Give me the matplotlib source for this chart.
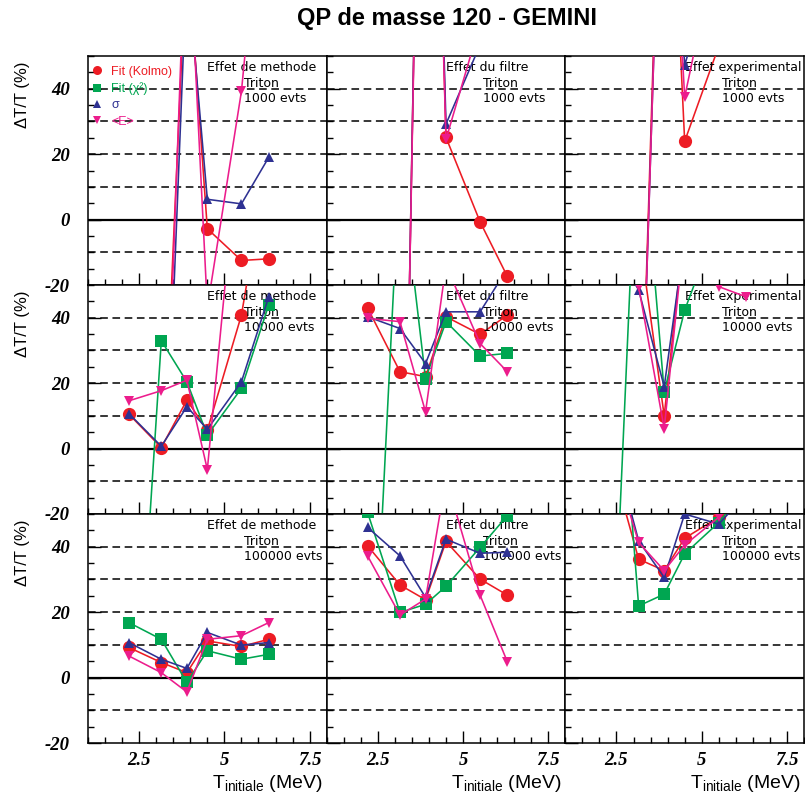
import numpy as np
import matplotlib.pyplot as plt
from matplotlib.lines import Line2D
from matplotlib.font_manager import FontProperties

plt.rcParams['font.family'] = ['Liberation Sans', 'DejaVu Sans']

nan = float('nan')

# temperature initiale (MeV)
t_init = [2.2, 3.15, 3.9, 4.5, 5.5, 6.3]

# --- 1000 evts ---
meth_1k_kolmo = [-60, -90, 85, -2.8, -12.5, -12]
meth_1k_chi2 = [nan, nan, nan, nan, nan, nan]
meth_1k_sigma = [-70, -118, 78, 6.2, 4.8, 19]
meth_1k_emoy = [-80, -114, 100, -27, 39.2, 125]

filt_1k_kolmo = [-60, -180, 250, 25.1, -0.7, -17.4]
filt_1k_chi2 = [nan, nan, nan, nan, nan, nan]
filt_1k_sigma = [-70, -180, 250, 29.2, 53.4, 70]
filt_1k_emoy = [-80, -175, 240, 24.5, 60, 90]

expe_1k_kolmo = [-60, -93, 157, 23.9, 53, 70]
expe_1k_chi2 = [nan, nan, nan, nan, nan, nan]
expe_1k_sigma = [-70, -95, 150, 47.2, 82, 90]
expe_1k_emoy = [-80, -95, 150, 37.4, 87, 95]

# --- 10000 evts ---
meth_10k_kolmo = [10.5, 0.3, 14.8, 5.6, 40.8, 90]
meth_10k_chi2 = [-120, 33, 20.4, 4.1, 18.4, 43.9]
meth_10k_sigma = [10.7, 0.7, 12.8, 5.9, 20.4, 46.4]
meth_10k_emoy = [14.6, 17.7, 20.9, -6.4, 102, 80]

filt_10k_kolmo = [43, 23.5, 22, 40.3, 34.9, 40.8]
filt_10k_chi2 = [-110, 88, 21.4, 38.8, 28.3, 29.1]
filt_10k_sigma = [40.3, 36.7, 26, 41.8, 41.8, 55]
filt_10k_emoy = [39.8, 38.8, 11.2, 56, 32.1, 23.5]

expe_10k_kolmo = [70, 66.6, 10, 68.5, 75, 80]
expe_10k_chi2 = [-115, 110, 17.3, 42.3, 70, 60]
expe_10k_sigma = [65, 48.5, 18.9, 64.4, 70, 75]
expe_10k_emoy = [60, 49.5, 6.1, 67, 49.5, 46.4]

# --- 100000 evts ---
meth_100k_kolmo = [9.2, 4.6, 1.5, 11.2, 9.5, 11.7]
meth_100k_chi2 = [16.8, 11.7, -1.5, 8.2, 5.6, 7.1]
meth_100k_sigma = [10.7, 5.6, 2.8, 13.8, 9.9, 10.7]
meth_100k_emoy = [6.6, 1.5, -4.4, 11.7, 12.8, 16.8]

filt_100k_kolmo = [40.3, 28.3, 23.8, 41.6, 30.1, 25.2]
filt_100k_chi2 = [50.5, 19.9, 22.4, 27.9, 39.8, 49.5]
filt_100k_sigma = [45.9, 37.2, 24.5, 42.3, 38, 38.3]
filt_100k_emoy = [37.2, 19.1, 24, 61, 25.2, 4.8]

expe_100k_kolmo = [72, 36.2, 32.7, 42.6, 49, 60]
expe_100k_chi2 = [149, 21.9, 25.5, 37.8, 47.4, 58]
expe_100k_sigma = [79, 41.8, 30.6, 50, 46.9, 56]
expe_100k_emoy = [74, 41.3, 32.7, 40.5, 49, 62]

effets = ["Effet de methode", "Effet du filtre", "Effet experimental"]
stats = ["1000 evts", "10000 evts", "100000 evts"]
labels = ["Fit (Kolmo)", "Fit (χ²)", "σ", "<E>"]

grid = [
    [(meth_1k_kolmo, meth_1k_chi2, meth_1k_sigma, meth_1k_emoy),
     (filt_1k_kolmo, filt_1k_chi2, filt_1k_sigma, filt_1k_emoy),
     (expe_1k_kolmo, expe_1k_chi2, expe_1k_sigma, expe_1k_emoy)],
    [(meth_10k_kolmo, meth_10k_chi2, meth_10k_sigma, meth_10k_emoy),
     (filt_10k_kolmo, filt_10k_chi2, filt_10k_sigma, filt_10k_emoy),
     (expe_10k_kolmo, expe_10k_chi2, expe_10k_sigma, expe_10k_emoy)],
    [(meth_100k_kolmo, meth_100k_chi2, meth_100k_sigma, meth_100k_emoy),
     (filt_100k_kolmo, filt_100k_chi2, filt_100k_sigma, filt_100k_emoy),
     (expe_100k_kolmo, expe_100k_chi2, expe_100k_sigma, expe_100k_emoy)],
]

colors = ['#ed1c24', '#00a651', '#2e3192', '#ec1c8c']
markers = ['o', 's', '^', 'v']
msizes = [9.5, 9, 7, 7]
leg_sizes = [6.5, 6, 6, 6]

tick_font = FontProperties(family='Liberation Serif', weight='bold', style='italic', size=13.5)

fig = plt.figure(figsize=(8.05, 8.0), dpi=100)
gs = fig.add_gridspec(3, 3, left=88 / 805, right=804 / 805, top=1 - 56 / 800,
                      bottom=1 - 743 / 800, hspace=0, wspace=0)

for i in range(3):
    for j in range(3):
        ax = fig.add_subplot(gs[i, j])
        ax.set_xlim(1, 8)
        ax.set_ylim(-20, 50)

        for yv in [-10, 10, 20, 30, 40]:
            ax.axhline(yv, color='k', lw=1.1, ls=(0, (5, 3)), zorder=1)
        ax.axhline(0, color='k', lw=1.6, zorder=1)

        for k, serie in enumerate(grid[i][j]):
            ax.plot(t_init, serie, color=colors[k], marker=markers[k], ms=msizes[k],
                    mew=0, lw=1.15, zorder=3 + k)

        ax.set_xticks([2.5, 5, 7.5], labels=['2.5', '5', '7.5'])
        ax.set_xticks(np.arange(1, 8.01, 0.5), minor=True)
        ax.set_yticks([-20, 0, 20, 40], labels=['-20', '0', '20', '40'])
        ax.set_yticks(np.arange(-20, 50.1, 5), minor=True)
        ax.tick_params(which='both', direction='in', top=False, right=False, width=1)
        ax.tick_params(which='major', length=9)
        ax.tick_params(which='minor', length=4)
        ax.tick_params(axis='y', pad=13)
        ax.tick_params(axis='x', pad=6.5)
        for sp in ax.spines.values():
            sp.set_linewidth(1.1)

        for lbl in ax.get_xticklabels() + ax.get_yticklabels():
            lbl.set_fontproperties(tick_font)
        if j > 0:
            ax.tick_params(axis='y', labelleft=False)
        else:
            ax.set_ylabel("ΔT/T (%)", loc='top', fontsize=12)
            ax.yaxis.set_label_coords(-0.243, 0.975)
        if i < 2:
            ax.tick_params(axis='x', labelbottom=False)
        else:
            ax.set_xlabel(r"T$_{\mathregular{initiale}}$ (MeV)", loc='right', fontsize=14)
            ax.xaxis.set_label_coords(0.985, -0.13)

        ax.text(0.5, 0.95, effets[j], transform=ax.transAxes, fontsize=9,
                family='DejaVu Sans', va='center', ha='left')
        ax.text(0.655, 0.882, "Triton", transform=ax.transAxes, fontsize=9,
                family='DejaVu Sans', va='center', ha='left')
        ax.text(0.655, 0.813, stats[i], transform=ax.transAxes, fontsize=9,
                family='DejaVu Sans', va='center', ha='left')

        if i == 0 and j == 0:
            handles = [Line2D([], [], ls='none', marker=markers[k], color=colors[k],
                              ms=leg_sizes[k], mew=0) for k in range(4)]
            leg = ax.legend(handles, labels, loc='upper left', bbox_to_anchor=(-0.01, 0.985),
                            frameon=False, fontsize=9, handlelength=0.8,
                            handletextpad=0.75, labelspacing=0.35, borderaxespad=0.2,
                            borderpad=0.3)
            for txt, c in zip(leg.get_texts(), colors):
                txt.set_color(c)

fig.text(447 / 805, 1 - 18 / 800, "QP de masse 120 - GEMINI", ha='center', va='center',
         fontsize=17, fontweight='bold')

fig.savefig("out.png", dpi=100)
